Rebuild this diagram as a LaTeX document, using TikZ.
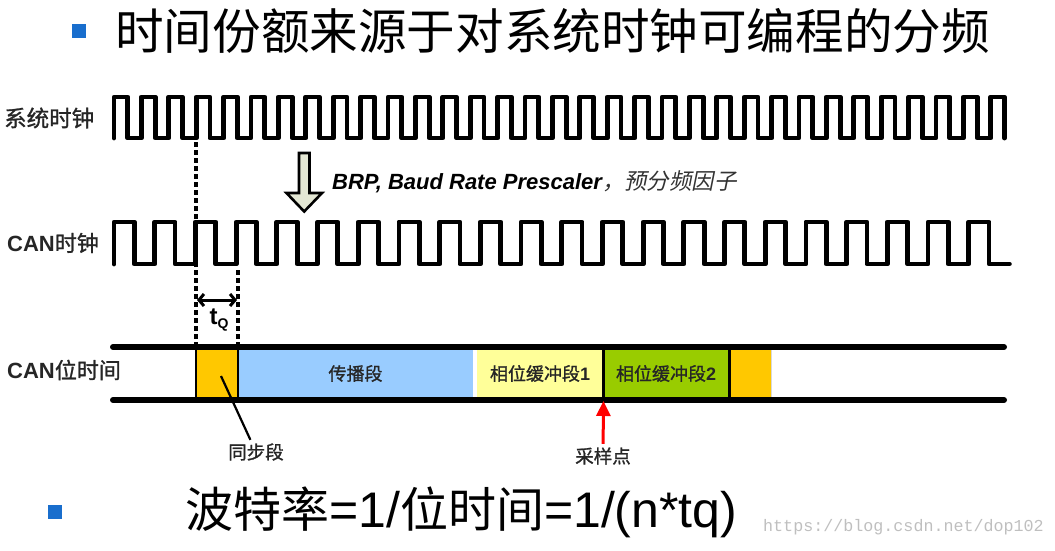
\documentclass[tikz,border=0pt]{standalone}
\usepackage{fontspec}
\setmainfont{Liberation Sans}
\newfontfamily\cjk{Noto Sans CJK SC}
\newfontfamily\cjkbold[FakeBold=1.2]{Noto Sans CJK SC}
\newfontfamily\cjkslant[FakeSlant=0.2]{Noto Sans CJK SC}
\newfontfamily\webfont{Liberation Mono}
\usetikzlibrary{calc}
\usetikzlibrary{arrows.meta}
\definecolor{bulletblue}{RGB}{25,110,205}
\definecolor{syncorange}{RGB}{255,200,0}
\definecolor{propblue}{RGB}{153,204,255}
\definecolor{phaseyellow}{RGB}{255,255,153}
\definecolor{phasegreen}{RGB}{153,204,0}
\definecolor{arrowfill}{RGB}{228,231,212}
\newcommand{\fs}[1]{\fontsize{#1}{#1}\selectfont}

\begin{document}
\begin{tikzpicture}[x=1pt,y=-1pt,
        wave/.style={line width=4.8pt,line join=round,line cap=round},
        guide/.style={line width=3.4pt,dash pattern=on 4.5pt off 3.5pt},
        barline/.style={line width=6pt,line cap=round},
        sep/.style={line width=2.8pt},
        seg/.style={inner sep=0,minimum height=48pt,font=\fs{18}\cjkbold,text=black!85},
        siglabel/.style={anchor=west,inner sep=0,font=\fs{22},text=black!85},
        note/.style={font=\fs{18.5}\cjkbold,text=black!85}]

        \useasboundingbox (0,0) rectangle (1055,550);

        % title
        \fill[bulletblue] (72,24) rectangle (86,38);
        \node[anchor=west,inner sep=0,font=\fs{48.6}\cjk] (title) at (115,31) {时间份额来源于对系统时钟可编程的分频};

        % signal names
        \node[siglabel] (sysname) at (4,118) {\cjkbold\fs{22.5}系统时钟};
        \node[siglabel] (canname) at (7,243) {\bfseries CAN{\cjkbold\mdseries 时钟}};
        \node[siglabel] (bitname) at (7,370) {\bfseries CAN{\cjkbold\mdseries 位时间}};

        % clocks
        \draw[wave] (114,138) \foreach \i in {1,...,32} {-- ++(0,-41) -- ++(13.7,0) -- ++(0,41) -- ++(13.7,0)}
            -- ++(0,-41) -- ++(13.7,0) -- ++(0,41);
        \draw[wave] (114,264) \foreach \i in {1,...,22} {-- ++(0,-42) -- ++(20.35,0) -- ++(0,42) -- ++(20.35,0)};

        % prescaler arrow
        \filldraw[fill=arrowfill,line width=2.6pt] (299,153) -- (309.5,153) -- (309.5,193) -- (322,193)
            -- (304.2,211.5) -- (286.5,193) -- (299,193) -- cycle;
        \node[anchor=west,inner sep=0] (brp) at (332,182)
            {\fs{22}\bfseries\itshape BRP, Baud Rate Prescaler{\cjkslant\mdseries\upshape\fs{22.4}\color{black!80}，预分频因子}};

        % bit time
        \node[seg,fill=syncorange,minimum width=42pt] (sync) at (217,373.5) {};
        \node[seg,fill=propblue,minimum width=235pt] (prop) at (355.5,373.5) {传播段};
        \node[seg,fill=phaseyellow,minimum width=126pt] (phase1) at (540,373.5) {相位缓冲段{\bfseries\rmfamily 1}};
        \node[seg,fill=phasegreen,minimum width=126pt] (phase2) at (666,373.5) {相位缓冲段{\bfseries\rmfamily 2}};
        \node[seg,fill=syncorange,minimum width=42pt] (sync2) at (750,373.5) {};
        \draw[gray!30,line width=1pt] (771.5,349) -- (771.5,398);
        \foreach \x in {196,238,603.5,729.5}
            \draw[sep] (\x,347) -- (\x,400);
        \draw[barline] (113,347) -- (1004,347);
        \draw[barline] (113,400) -- (1004,400);

        % tq
        \coordinate (q0) at (196,142);
        \coordinate (q1) at (238,270);
        \coordinate (bartop) at (0,347);
        \draw[guide] (q0) -- (q0 |- bartop);
        \draw[guide] (q1) -- (q1 |- bartop);
        \coordinate (tqL) at (197,300);
        \coordinate (tqR) at (237,300);
        \draw[line width=3pt,{Straight Barb[length=5pt,width=12pt]}-{Straight Barb[length=5pt,width=12pt]}] (tqL) -- (tqR);
        \node[inner sep=0] (tq) at (219,320) {\fs{24}\bfseries t\raisebox{-4pt}{\fs{14}Q}};

        % pointers
        \coordinate (syncpt) at (221,376);
        \node[note] (synclbl) at (256,452) {同步段};
        \draw[line width=2.2pt] (syncpt) -- (synclbl);
        \coordinate (samppt) at (603.5,401);
        \node[note] (samplbl) at (603,456) {采样点};
        \draw[red,line width=3pt,-{Triangle[width=14pt,length=15pt]}] (samplbl) -- (samppt);

        % baud rate
        \fill[bulletblue] (48,505) rectangle (62,519);
        \node[anchor=west,inner sep=0] (baud) at (185,512) {\fs{48}{\cjk 波特率}{\fs{50}=1/}{\cjk 位时间}{\fs{50}=1/(n*tq)}};
        \node[anchor=west,inner sep=0,text=black!25] (url) at (763,527) {\webfont\fs{16.7}https://blog.csdn.net/dop102};
    \end{tikzpicture}
\end{document}
